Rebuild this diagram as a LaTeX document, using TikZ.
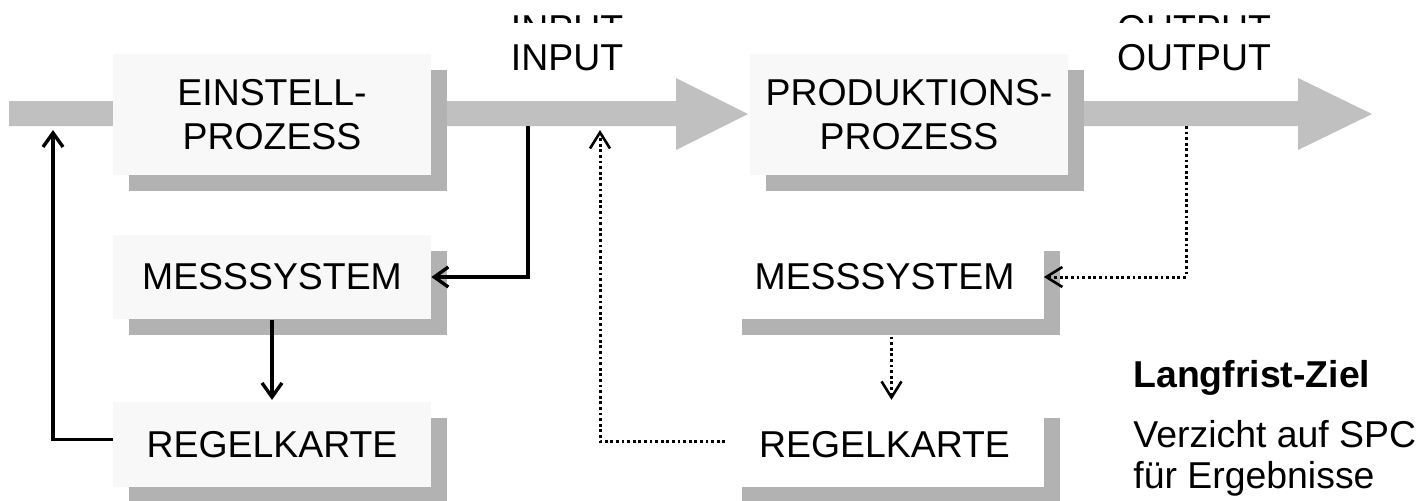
\documentclass[tikz,border=0pt]{standalone}
\usepackage{fontspec}
\setmainfont{Liberation Sans}
\usetikzlibrary{arrows.meta,calc,shadows}
\definecolor{barc}{HTML}{C0C0C0}
\definecolor{shc}{HTML}{B2B2B2}
\definecolor{boxc}{HTML}{F8F8F8}
\tikzset{
  txt/.style={font=\fontsize{18.7}{22}\selectfont, inner sep=0pt},
  procbox/.style={txt, align=center, minimum width=159pt, minimum height=60.5pt, fill=boxc,
    drop shadow={shadow xshift=8pt, shadow yshift=-8pt, fill=shc, opacity=1}},
  lowbox/.style={procbox, minimum height=42.25pt},
  whitebox/.style={lowbox, fill=white},
  blk/.style={line width=1.9pt, -{Straight Barb[length=7pt,width=10pt,line width=1.7pt]}},
  dotl/.style={line width=1.5pt, dash pattern=on 1.4pt off 1.4pt, -{Straight Barb[length=8pt,width=10pt,line width=1.3pt]}},
  bigarrow/.style={fill=barc},
}
\begin{document}
\begin{tikzpicture}[x=0.5pt,y=-0.5pt]
\useasboundingbox (0,0) rectangle (1418,500);
% gray flow arrows
\fill[bigarrow] (9,101) -- (676,101) -- (676,78) -- (748,114) -- (676,150) -- (676,126) -- (9,126) -- cycle;
\fill[bigarrow] (1060,101) -- (1298,101) -- (1298,78) -- (1372,114) -- (1298,150) -- (1298,126) -- (1060,126) -- cycle;
% boxes
\node[procbox] (ein) at (272,114.5) {EINSTELL-\\PROZESS};
\node[procbox] (prod) at (909,114.5) {PRODUKTIONS-\\PROZESS};
\node[lowbox] (lm) at (272,277) {MESSSYSTEM};
\node[lowbox] (lr) at (272,444.5) {REGELKARTE};
\node[whitebox] (rm) at (884.5,277) {MESSSYSTEM};
\node[whitebox] (rr) at (884.5,444.5) {REGELKARTE};
% labels
\begin{scope}
\clip (0,0) rectangle (1418,22);
\node[txt, anchor=base] (inA) at (567,41) {INPUT};
\node[txt, anchor=base] (outA) at (1194,41) {OUTPUT};
\end{scope}
\node[txt, anchor=base] (inB) at (567,70) {INPUT};
\node[txt, anchor=base] (outB) at (1194,70) {OUTPUT};
\node[txt, anchor=base west, font=\fontsize{18.7}{22}\selectfont\bfseries] (lz) at (1133,387) {Langfrist-Ziel};
\node[txt, anchor=base west] (lz1) at (1133,447) {Verzicht auf SPC};
\node[txt, anchor=base west] (lz2) at (1133,488) {für Ergebnisse};
% connectors
\coordinate (in1) at (528,126);
\coordinate (up1) at (53,130);
\coordinate (up2) at (600,130);
\coordinate (out1) at (1186,126);
\draw[blk] (in1) |- (lm.east);
\draw[blk] (lm.south) -- ($(lr.north)+(0,-2)$);
\draw[blk] ($(lr.west)+(0,-5)$) -| (up1);
\draw[dotl] ($(rr.west)+(0,-3)$) -| (up2);
\draw[dotl] (out1) |- (rm.east);
\draw[dotl] ($(rm.south)+(7,17)$) -- ($(rr.north)+(7,-2)$);
\end{tikzpicture}
\end{document}
